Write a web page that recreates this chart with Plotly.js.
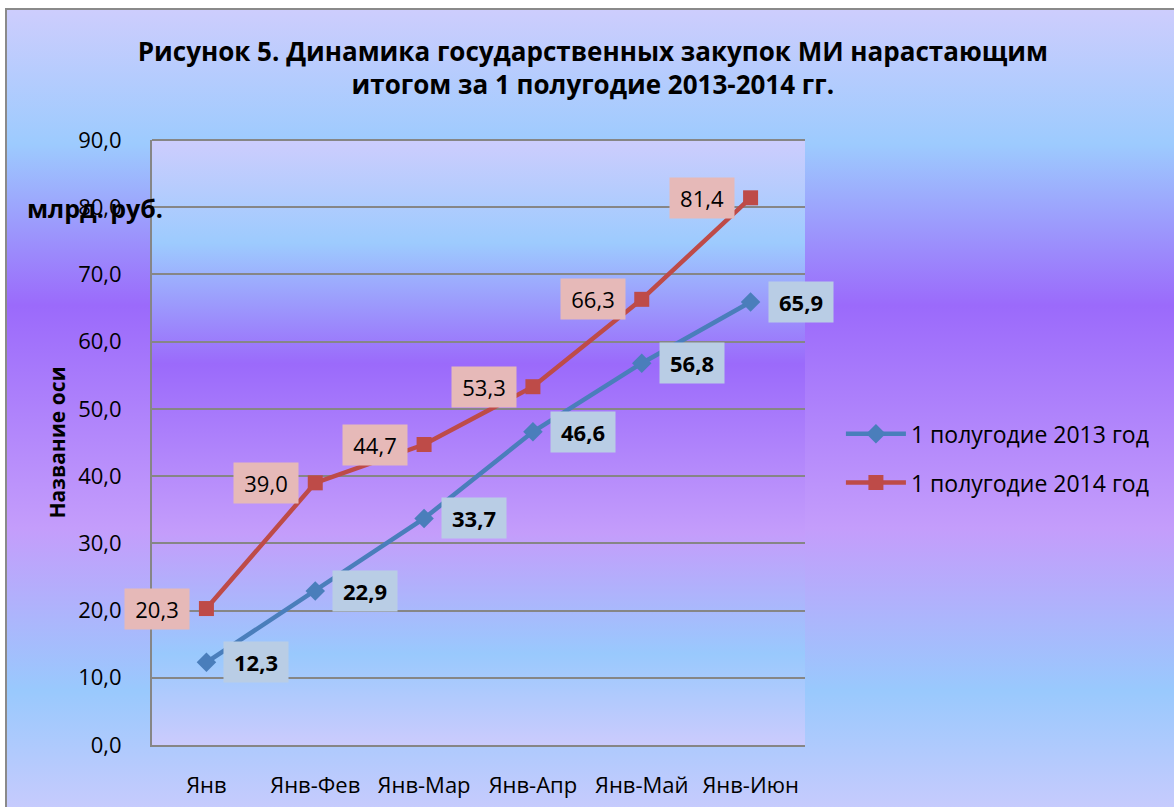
<!DOCTYPE html>
<html>
<head>
<meta charset="utf-8">
<script src="https://cdn.plot.ly/plotly-3.0.1.min.js"></script>
<style>
  html, body { margin:0; padding:0; background:#ffffff; width:1174px; height:807px; overflow:hidden; }
  #frame { position:absolute; left:5px; top:8px; width:1180px; height:810px; border:2px solid #8a8a8a;
    background:linear-gradient(to bottom, #cdcdfd 0%, #9dcbfe 16.5%, #9b6afb 36.5%, #c49dfb 64%, #99c9fd 84%, #cbcbfd 100%); }
  #plotbg { position:absolute; left:152px; top:140px; width:653px; height:605px;
    background:linear-gradient(to bottom, #cdcdfd 0%, #9dcbfe 17%, #9b6afb 37%, #c49dfb 65%, #99c9fd 85%, #cbcbfd 100%); }
  #chart { position:absolute; left:0; top:0; width:1174px; height:807px; }
</style>
</head>
<body>
<div id="frame"></div>
<div id="plotbg"></div>
<div id="chart"></div>
<script>
const categories = ['Янв', 'Янв-Фев', 'Янв-Мар', 'Янв-Апр', 'Янв-Май', 'Янв-Июн'];
const values2013 = [12.3, 22.9, 33.7, 46.6, 56.8, 65.9];
const values2014 = [20.3, 39.0, 44.7, 53.3, 66.3, 81.4];
const seriesNames = ['1 полугодие 2013 год', '1 полугодие 2014 год'];
const chartTitle = 'Рисунок 5. Динамика государственных закупок МИ нарастающим<br>итогом за 1 полугодие 2013-2014 гг.';
const yAxisTitle = 'Название оси';
const unitLabel = 'млрд. руб.';

const FONT = 'Open Sans, Lato, DejaVu Sans, sans-serif';
const fmt = v => v.toFixed(1).replace('.', ',');

const traces = [
  { x: categories, y: values2013, name: seriesNames[0], type: 'scatter', mode: 'lines+markers',
    legendgroup: 'a',
    line: { color: '#4a7ebb', width: 4.5 },
    marker: { symbol: 'diamond', size: 15, color: '#4a7ebb' } },
  { x: categories, y: values2014, name: seriesNames[1], type: 'scatter', mode: 'lines+markers',
    legendgroup: 'b',
    line: { color: '#be4b48', width: 4.5 },
    marker: { symbol: 'square', size: 15, color: '#be4b48' } }
];

const annotations = [];
values2013.forEach((v, i) => annotations.push({
  x: categories[i], y: v, xref: 'x', yref: 'y', text: '<b>' + fmt(v) + '</b>', showarrow: false,
  xshift: 50, bgcolor: '#b9cde5', width: 58, height: 34, borderpad: 3,
  font: { family: FONT, size: 22, color: '#000' }
}));
values2014.forEach((v, i) => annotations.push({
  x: categories[i], y: v, xref: 'x', yref: 'y', text: fmt(v), showarrow: false,
  xshift: -49, bgcolor: '#e6b9b8', width: 58, height: 34, borderpad: 3,
  font: { family: FONT, size: 22, color: '#000' }
}));
annotations.push({
  text: '<b>' + yAxisTitle + '</b>', xref: 'paper', yref: 'paper', x: -0.1455, y: 0.5,
  xanchor: 'center', yanchor: 'middle',
  textangle: -90, showarrow: false, font: { family: FONT, size: 21, color: '#000' }
});
annotations.push({
  text: '<b>' + unitLabel + '</b>', xref: 'paper', yref: 'paper', x: -0.195, y: 0.8876,
  xanchor: 'left', yanchor: 'middle', showarrow: false, font: { family: FONT, size: 25, color: '#000' }
});

const layout = {
  width: 1174, height: 807,
  paper_bgcolor: 'rgba(0,0,0,0)', plot_bgcolor: 'rgba(0,0,0,0)',
  margin: { l: 152, r: 369, t: 140, b: 62 },
  separators: ', ',
  title: { text: '<b>' + chartTitle + '</b>', x: 0.505, xanchor: 'center', y: 0.925, yanchor: 'top',
    font: { family: FONT, size: 26, color: '#000' } },
  xaxis: { type: 'category', range: [-0.5, 5.5], showgrid: false, showline: true, linecolor: '#868686', linewidth: 2,
    ticks: '', ticklabelstandoff: 20, tickfont: { family: FONT, size: 22, color: '#000' }, fixedrange: true },
  yaxis: { range: [0, 90], dtick: 10, tickformat: '.1f', showgrid: true, gridcolor: '#868686', gridwidth: 2,
    showline: true, linecolor: '#868686', linewidth: 2, zeroline: false, ticks: '', ticklabelstandoff: 24,
    tickfont: { family: FONT, size: 22, color: '#000' }, fixedrange: true },
  showlegend: true,
  legend: { x: 1.055, y: 0.55, xanchor: 'left', yanchor: 'top', bgcolor: 'rgba(0,0,0,0)',
    tracegroupgap: 16, itemwidth: 60, font: { family: FONT, size: 23, color: '#000' } },
  annotations: annotations,
  shapes: [{ type: 'line', xref: 'paper', yref: 'paper', x0: 0, x1: 1, y0: 1, y1: 1, line: { color: '#868686', width: 2 } }]
};

Plotly.newPlot('chart', traces, layout, { displayModeBar: false, staticPlot: true });
</script>
</body>
</html>
